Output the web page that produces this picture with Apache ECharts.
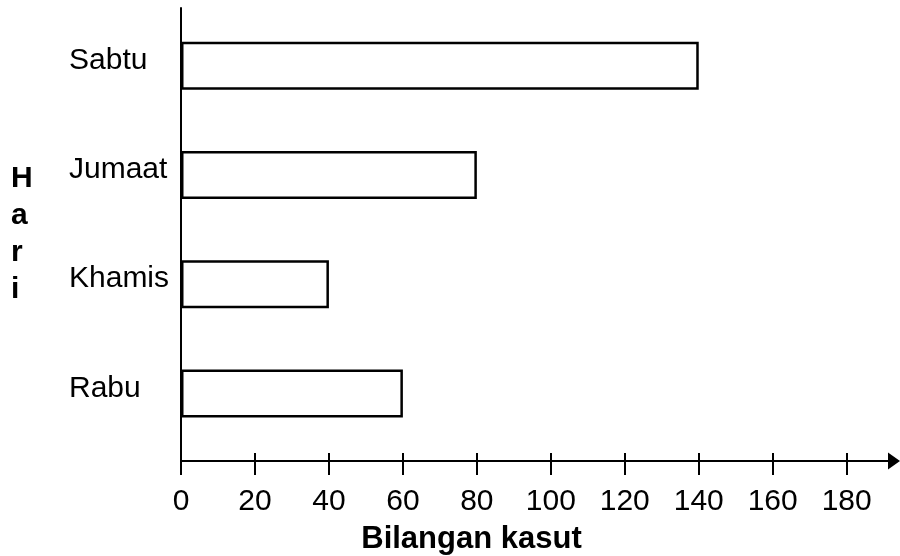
<!DOCTYPE html>
<html>
<head>
<meta charset="utf-8">
<script src="https://cdn.jsdelivr.net/npm/echarts@6/dist/echarts.min.js"></script>
<style>html,body{margin:0;padding:0;background:#fff;}#c{width:900px;height:556px;}</style>
</head>
<body>
<div id="c"></div>
<script>
const days = ['Rabu', 'Khamis', 'Jumaat', 'Sabtu'];
const shoes = [60, 40, 80, 140];
const tickValues = [0, 20, 40, 60, 80, 100, 120, 140, 160, 180];
const xName = 'Bilangan kasut';
const yName = 'Hari';

const FONT = '"Liberation Sans", Arial, sans-serif';
const XMAX = 192.8;
const chart = echarts.init(document.getElementById('c'), null, {renderer: 'canvas'});
chart.setOption({
  backgroundColor: '#fff',
  animation: false,
  grid: [
    {left: 181, right: 6, top: 11, height: 437, outerBoundsMode: 'none', containLabel: false},
    {left: 181, right: 6, top: 8, bottom: 95, outerBoundsMode: 'none', containLabel: false}
  ],
  xAxis: [
    {gridIndex: 0, type: 'value', min: 0, max: XMAX, show: false},
    {
      gridIndex: 1, type: 'value', min: 0, max: XMAX, position: 'bottom',
      axisLine: {show: true, onZero: false, symbol: ['none', 'triangle'], symbolSize: [17, 12],
        lineStyle: {color: '#000', width: 2}},
      axisTick: {show: true, inside: false, length: 14, customValues: tickValues,
        lineStyle: {color: '#000', width: 2}},
      axisLabel: {show: true, customValues: tickValues, margin: 26,
        color: '#000', fontSize: 30, fontFamily: FONT},
      splitLine: {show: false},
      name: xName, nameLocation: 'middle', nameGap: 63,
      nameTextStyle: {color: '#000', fontSize: 31, fontWeight: 'bold', fontFamily: FONT,
        padding: [0, 132, 0, 0]}
    },
    {
      gridIndex: 1, type: 'value', min: 0, max: XMAX, position: 'bottom',
      axisLine: {show: false},
      axisTick: {show: true, inside: true, length: 8, customValues: tickValues,
        lineStyle: {color: '#000', width: 2}},
      axisLabel: {show: false},
      splitLine: {show: false}
    }
  ],
  yAxis: [
    {
      gridIndex: 0, type: 'category', data: days,
      axisLine: {show: false}, axisTick: {show: false},
      axisLabel: {color: '#000', fontSize: 30, fontFamily: FONT, align: 'left', margin: 112,
        formatter: '{t|{value}}',
        rich: {t: {color: '#000', fontSize: 30, fontFamily: FONT, padding: [0, 0, 10, 0]}}},
      splitLine: {show: false}
    },
    {
      gridIndex: 1, type: 'value', min: 0, max: 1,
      axisLine: {show: true, lineStyle: {color: '#000', width: 2}},
      axisTick: {show: false}, axisLabel: {show: false}, splitLine: {show: false},
      name: yName.split('').join('\n'), nameLocation: 'middle', nameRotate: 0, nameGap: 170,
      nameTextStyle: {color: '#000', fontSize: 30, fontWeight: 'bold', fontFamily: FONT,
        align: 'left', lineHeight: 37}
    }
  ],
  series: [{
    type: 'bar', xAxisIndex: 0, yAxisIndex: 0, data: shoes, barWidth: 48,
    itemStyle: {color: '#fff', borderColor: '#000', borderWidth: 2.5},
    silent: true
  }]
});
</script>
</body>
</html>
